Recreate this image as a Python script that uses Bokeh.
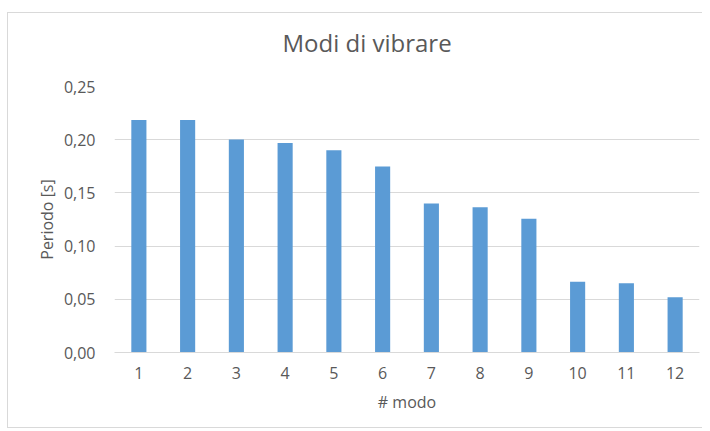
from bokeh.plotting import figure
from bokeh.models import ColumnDataSource, FactorRange, Range1d, CustomJSTickFormatter, FixedTicker
from bokeh.embed import file_html
from bokeh.resources import INLINE

modes = ["1", "2", "3", "4", "5", "6", "7", "8", "9", "10", "11", "12"]
periods = [0.2186, 0.2186, 0.2003, 0.1969, 0.1900, 0.1748, 0.1400, 0.1365, 0.1258, 0.0664, 0.0651, 0.0519]
y_ticks = [0.0, 0.05, 0.10, 0.15, 0.20, 0.25]

src = ColumnDataSource(data=dict(x=modes, y=periods))

FONT = "Open Sans"
GRAY = "#595959"

p = figure(x_range=FactorRange(*modes), y_range=Range1d(0, 0.25),
           width=695, height=416, output_backend="svg", toolbar_location=None,
           min_border_left=106, min_border_right=4, min_border_top=73, min_border_bottom=77)
p.styles = {"margin-left": "7px", "margin-top": "12px",
            "border-left": "1px solid #d9d9d9", "border-top": "1px solid #d9d9d9",
            "border-bottom": "1px solid #d9d9d9"}

p.title.text = "Modi di vibrare\n\u00a0"
p.title.align = "left"
p.title.offset = 168
p.title.text_font = FONT
p.title.text_font_size = "24px"
p.title.text_font_style = "normal"
p.title.text_color = GRAY
p.title.text_line_height = 0.8
p.title.standoff = 2

p.vbar(x="x", top="y", width=0.31, source=src, fill_color="#5b9bd5", line_color=None)

p.outline_line_color = None
p.xgrid.grid_line_color = None
p.ygrid.grid_line_color = "#d9d9d9"
p.ygrid.grid_line_width = 1

p.yaxis.ticker = FixedTicker(ticks=y_ticks)
p.yaxis.formatter = CustomJSTickFormatter(code="return tick.toFixed(2).replace('.', ',');")
p.yaxis.axis_line_color = None
p.yaxis.major_tick_line_color = None
p.yaxis.minor_tick_line_color = None
p.yaxis.major_label_text_font = FONT
p.yaxis.major_label_text_font_size = "16px"
p.yaxis.major_label_text_color = GRAY
p.yaxis.major_label_standoff = 13
p.yaxis.axis_label = "Periodo [s]"
p.yaxis.axis_label_text_font = FONT
p.yaxis.axis_label_text_font_size = "16px"
p.yaxis.axis_label_text_font_style = "normal"
p.yaxis.axis_label_text_color = GRAY
p.yaxis.axis_label_standoff = 3

p.xaxis.axis_line_color = "#d9d9d9"
p.xaxis.major_tick_line_color = None
p.xaxis.minor_tick_line_color = None
p.xaxis.major_label_text_font = FONT
p.xaxis.major_label_text_font_size = "16px"
p.xaxis.major_label_text_color = GRAY
p.xaxis.major_label_standoff = 8
p.xaxis.axis_label = "# modo"
p.xaxis.axis_label_text_font = FONT
p.xaxis.axis_label_text_font_size = "16px"
p.xaxis.axis_label_text_font_style = "normal"
p.xaxis.axis_label_text_color = GRAY
p.xaxis.axis_label_standoff = 9

open("out.html", "w").write(file_html(p, INLINE))
